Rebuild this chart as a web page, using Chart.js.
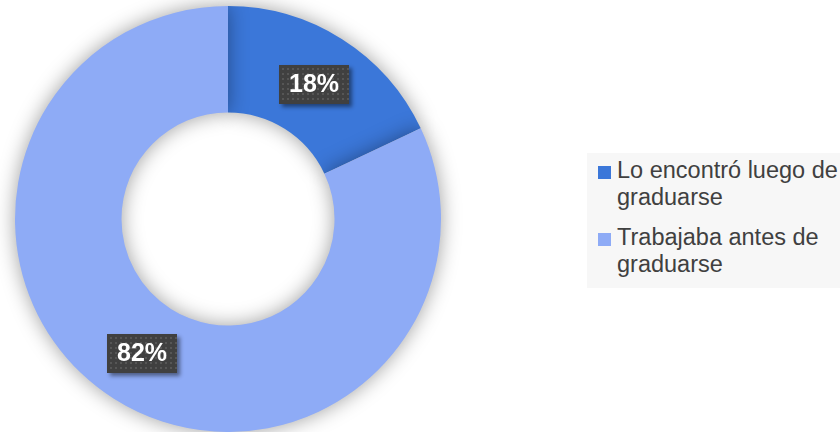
<!DOCTYPE html>
<html>
<head>
<meta charset="utf-8">
<script src="https://cdn.jsdelivr.net/npm/chart.js@4/dist/chart.umd.min.js"></script>
<style>
  body { margin: 0; background: #fff; }
  #wrap { position: relative; width: 840px; height: 432px; overflow: hidden; }
  #legend {
    position: absolute; left: 587px; top: 153px; width: 253px; height: 135px;
    background: #f7f7f7; font-family: "Liberation Sans", Arial, sans-serif;
    font-size: 23.5px; color: #404040; line-height: 27px;
  }
  .item { position: absolute; left: 30px; width: 240px; white-space: normal; }
  .sw { position: absolute; left: -19px; top: 9px; width: 13px; height: 13px; }
</style>
</head>
<body>
<div id="wrap">
  <canvas id="myChart" width="840" height="432"></canvas>
  <div id="legend"></div>
</div>
<script>
var labels = ['Lo encontró luego de graduarse', 'Trabajaba antes de graduarse'];
var values = [18, 82];
var pctLabels = ['18%', '82%'];
var colors = ['#3b77d9', '#8eabf6'];

// leyenda en html
var legend = document.getElementById('legend');
var tops = [4, 71];
labels.forEach(function(lab, i) {
    var d = document.createElement('div');
    d.className = 'item';
    d.style.top = tops[i] + 'px';
    d.innerHTML = '<span class="sw" style="background:' + colors[i] + '"></span>' +
        lab.replace(' graduarse', '<br>graduarse');
    legend.appendChild(d);
});

var shadowPlugin = {
    id: 'shadow',
    beforeDatasetsDraw: function(chart) {
        var ctx = chart.ctx;
        ctx.save();
        ctx.shadowColor = 'rgba(0,0,0,0.38)';
        ctx.shadowBlur = 20;
    },
    afterDatasetsDraw: function(chart) {
        chart.ctx.restore();
    }
};

var boxPlugin = {
    id: 'boxes',
    afterDatasetsDraw: function(chart) {
        var ctx = chart.ctx;
        var meta = chart.getDatasetMeta(0);
        meta.data.forEach(function(arc, i) {
            var p = arc.tooltipPosition();
            var w = 70, h = 39;
            var x = Math.round(p.x - w / 2), y = Math.round(p.y - h / 2);
            ctx.save();
            ctx.shadowColor = 'rgba(0,0,0,0.45)';
            ctx.shadowBlur = 4;
            ctx.shadowOffsetX = 3;
            ctx.shadowOffsetY = 3;
            ctx.fillStyle = '#404040';
            ctx.fillRect(x, y, w, h);
            ctx.restore();
            ctx.save();
            ctx.fillStyle = '#565656';
            for (var yy = y + 3; yy < y + h - 1; yy += 5) {
                for (var xx = x + 3; xx < x + w - 1; xx += 5) {
                    ctx.fillRect(xx, yy, 2, 2);
                }
            }
            ctx.fillStyle = '#ffffff';
            ctx.font = 'bold 25px "Liberation Sans", Arial, sans-serif';
            ctx.textAlign = 'center';
            ctx.textBaseline = 'middle';
            ctx.fillText(pctLabels[i], x + w / 2, y + h / 2 + 1);
            ctx.restore();
        });
    }
};

var ctx = document.getElementById('myChart');
var myChart = new Chart(ctx.getContext('2d'), {
    type: 'doughnut',
    data: {
        labels: labels,
        datasets: [{
            data: values,
            backgroundColor: colors,
            borderWidth: 0,
            clip: false
        }]
    },
    options: {
        responsive: false,
        animation: false,
        cutout: '50%',
        layout: { padding: { left: 15, right: 399, top: 6, bottom: 0 } },
        plugins: {
            legend: { display: false },
            tooltip: { enabled: false }
        }
    },
    plugins: [shadowPlugin, boxPlugin]
});
</script>
</body>
</html>
